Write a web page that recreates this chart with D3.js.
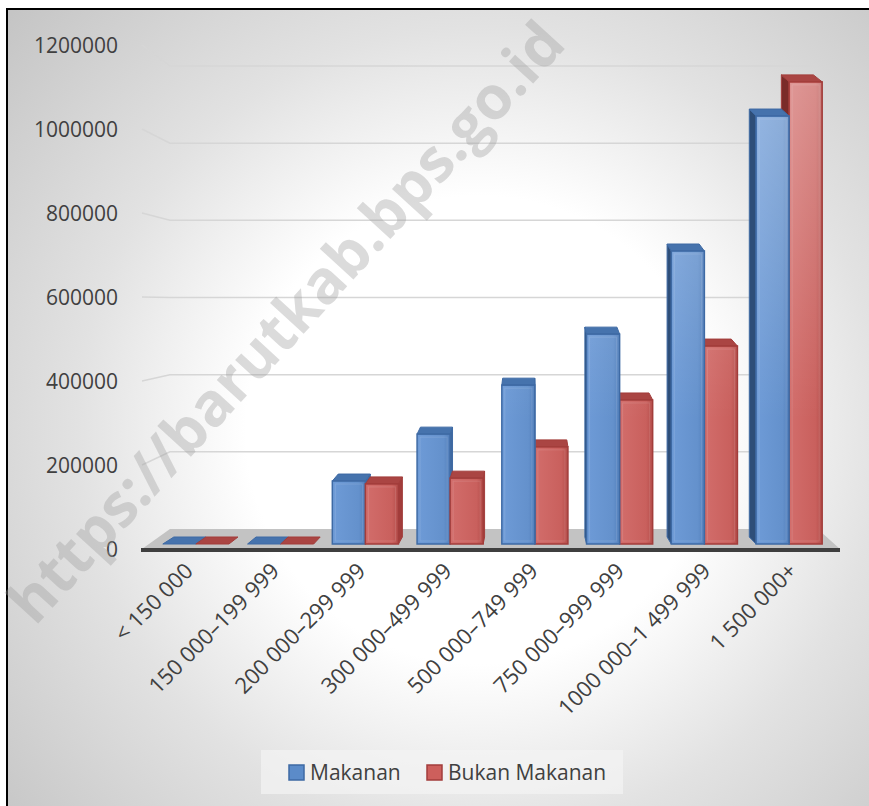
<!DOCTYPE html>
<html>
<head>
<meta charset="utf-8">
<script src="https://cdn.jsdelivr.net/npm/d3@7"></script>
<style>
  body { margin: 0; background: #fff; }
  svg { display: block; font-family: "Open Sans", "Noto Sans", sans-serif; }
</style>
</head>
<body>
<div class="chart"></div>
<script>
// data
var categories = ["< 150 000", "150 000–199 999", "200 000–299 999", "300 000–499 999",
  "500 000–749 999", "750 000–999 999", "1000 000–1 499 999", "1 500 000+"];
var makanan = [0, 0, 153000, 267000, 386000, 510000, 712000, 1040000];
var bukanMakanan = [0, 0, 146000, 160000, 236000, 350000, 481000, 1123000];
var seriesNames = ["Makanan", "Bukan Makanan"];
var yTicks = [0, 200000, 400000, 600000, 800000, 1000000, 1200000];

var width = 869, height = 806;
var svg = d3.select(".chart").append("svg")
  .attr("width", width)
  .attr("height", height);
var defs = svg.append("defs");

// achtergrond verloop
var bg = defs.append("radialGradient").attr("id", "bg")
  .attr("gradientUnits", "userSpaceOnUse")
  .attr("cx", 480).attr("cy", 430).attr("r", 650);
bg.append("stop").attr("offset", 0.36).attr("stop-color", "#ffffff");
bg.append("stop").attr("offset", 0.62).attr("stop-color", "#e2e2e2");
bg.append("stop").attr("offset", 1).attr("stop-color", "#c2c2c2");

function barGradient(id, c0, c1, c2) {
  var g = defs.append("linearGradient").attr("id", id)
    .attr("x1", 0).attr("x2", 1).attr("y1", 0).attr("y2", 0);
  g.append("stop").attr("offset", 0).attr("stop-color", c0);
  g.append("stop").attr("offset", 0.8).attr("stop-color", c1);
  g.append("stop").attr("offset", 1).attr("stop-color", c2);
}
barGradient("blueFront", "#6e9bd7", "#6491cc", "#537fbb");
barGradient("redFront", "#d26d6b", "#c9605d", "#b44d4a");

// lichte glans naar boven toe
var shine = defs.append("linearGradient").attr("id", "shine")
  .attr("gradientUnits", "userSpaceOnUse")
  .attr("x1", 0).attr("x2", 0).attr("y1", 70).attr("y2", 420);
shine.append("stop").attr("offset", 0).attr("stop-color", "#fff").attr("stop-opacity", 0.3);
shine.append("stop").attr("offset", 1).attr("stop-color", "#fff").attr("stop-opacity", 0);

var styles = {
  "Makanan": { front: "url(#blueFront)", stroke: "#3e6aa4", top: "#4673ad", sideL: "#2e4e78", sideR: "#3f689f", legend: "#5b8bc9" },
  "Bukan Makanan": { front: "url(#redFront)", stroke: "#a23d3b", top: "#aa4543", sideL: "#7a2b29", sideR: "#a23d3b", legend: "#cd5f5c" }
};

svg.append("rect")
  .attr("x", 7).attr("y", 9)
  .attr("width", 900).attr("height", 850)
  .attr("fill", "url(#bg)")
  .attr("stroke", "#000")
  .attr("stroke-width", 2);

// 3D hulpmaten
var vx = 530;          // verdwijnpunt x
var barDepth = 0.03;   // diepte van de staven (fractie richting vx)
var barDy = -7;
var floorDepth = 0.072;

// schalen
var x = d3.scaleBand().domain(categories)
  .range([153.5, 831.5]).paddingInner(0.22).paddingOuter(0.11);
var xs = d3.scaleBand().domain(seriesNames).range([0, x.bandwidth()]);
var yBar = d3.scaleLinear().domain([0, 1200000]).range([544, 50.2]);
var yFront = d3.scaleLinear().domain([0, 1200000]).range([549, 45]);
var yBack = d3.scaleLinear().domain([0, 1200000]).range([529, 66]);

var floorL = 142, floorR = 840;
function backX(px, f) { return px + (vx - px) * f; }

// rasterlijnen (achterwand + zijwand)
var grid = svg.append("g");
grid.selectAll("path.grid")
  .data(yTicks.slice(1))
  .enter().append("path")
  .attr("class", "grid")
  .attr("d", function (d) {
    return "M" + floorL + "," + yFront(d) + "L" + backX(floorL, floorDepth) + "," + yBack(d) +
      "L" + backX(floorR, floorDepth) + "," + yBack(d);
  })
  .attr("fill", "none")
  .attr("stroke", "#d6d6d6")
  .attr("stroke-width", 1.5);

// y-as labels
svg.append("g").selectAll("text")
  .data(yTicks)
  .enter().append("text")
  .attr("x", 118)
  .attr("y", function (d) { return yFront(d) + 1; })
  .attr("dy", "0.35em")
  .attr("text-anchor", "end")
  .attr("font-size", 21)
  .attr("fill", "#404040")
  .text(function (d) { return d; });

// vloer
var floorPts = [[floorL, yFront(0)], [floorR, yFront(0)],
  [backX(floorR, floorDepth), yBack(0)], [backX(floorL, floorDepth), yBack(0)]];
svg.append("path")
  .attr("d", "M" + floorPts.join("L") + "Z")
  .attr("fill", "#c3c3c3");
svg.append("line")
  .attr("x1", floorL - 1).attr("x2", floorR)
  .attr("y1", yFront(0) + 1).attr("y2", yFront(0) + 1)
  .attr("stroke", "#3f3f3f")
  .attr("stroke-width", 4);

// staven
var rows = categories.map(function (c, i) {
  return { cat: c, values: [
    { name: seriesNames[0], value: makanan[i] },
    { name: seriesNames[1], value: bukanMakanan[i] }
  ] };
});

function poly(pts) { return "M" + pts.join("L") + "Z"; }

var groups = svg.append("g").selectAll("g")
  .data(rows)
  .enter().append("g");

groups.each(function (row) {
  var g = d3.select(this);
  var gx = x(row.cat);
  var center = gx + x.bandwidth() / 2;
  // voor groepen rechts van het verdwijnpunt: eerst rood, dan blauw
  var order = center > vx ? row.values.slice().reverse() : row.values;
  order.forEach(function (d) {
    var st = styles[d.name];
    var x0 = gx + xs(d.name), x1 = x0 + xs.bandwidth();
    var yt = yBar(d.value), yb = yBar(0);
    var bx0 = backX(x0, barDepth), bx1 = backX(x1, barDepth);
    var bar = g.append("g");
    if (d.value > 0) {
      if (bx0 < x0) {
        bar.append("path")
          .attr("d", poly([[x0, yt], [bx0, yt + barDy], [bx0, yb + barDy], [x0, yb]]))
          .attr("fill", st.sideL).attr("stroke", st.stroke).attr("stroke-width", 1);
      } else {
        bar.append("path")
          .attr("d", poly([[x1, yt], [bx1, yt + barDy], [bx1, yb + barDy], [x1, yb]]))
          .attr("fill", st.sideR).attr("stroke", st.stroke).attr("stroke-width", 1);
      }
    }
    bar.append("path")
      .attr("d", poly([[x0, yt], [x1, yt], [bx1, yt + barDy], [bx0, yt + barDy]]))
      .attr("fill", st.top).attr("stroke", st.stroke).attr("stroke-width", 1);
    if (d.value > 0) {
      bar.append("rect")
        .attr("x", x0).attr("y", yt)
        .attr("width", x1 - x0).attr("height", yb - yt)
        .attr("fill", st.front)
        .attr("stroke", st.stroke).attr("stroke-width", 1.5);
      bar.append("rect")
        .attr("x", x0 + 1).attr("y", yt + 1)
        .attr("width", x1 - x0 - 2).attr("height", yb - yt - 2)
        .attr("fill", "url(#shine)");
      bar.append("rect")
        .attr("x", x0 + 3).attr("y", yt + 3)
        .attr("width", x1 - x0 - 6).attr("height", Math.max(0, yb - yt - 6))
        .attr("fill", "none")
        .attr("stroke", "#ffffff").attr("stroke-opacity", 0.12).attr("stroke-width", 1);
    }
  });
});

// x-as labels (op het voorvlak van de vloer)
svg.append("g").selectAll("text")
  .data(categories)
  .enter().append("text")
  .attr("transform", function (d) {
    var c = x(d) + x.bandwidth() / 2;
    var lx = c + (c - vx) * 0.018 - 1;
    return "translate(" + lx + ",567) rotate(-45)";
  })
  .attr("text-anchor", "end")
  .attr("dy", "0.35em")
  .attr("font-size", 22)
  .attr("fill", "#404040")
  .text(function (d) { return d; });

// legenda
var legend = svg.append("g");
legend.append("rect")
  .attr("x", 261).attr("y", 750).attr("width", 362).attr("height", 44)
  .attr("fill", "#f4f4f4").attr("fill-opacity", 0.7);
var legX = [289, 427];
var item = legend.selectAll("g.item")
  .data(seriesNames)
  .enter().append("g")
  .attr("class", "item")
  .attr("transform", function (d, i) { return "translate(" + legX[i] + ",765)"; });
item.append("rect")
  .attr("width", 15).attr("height", 15)
  .attr("fill", function (d) { return styles[d].legend; })
  .attr("stroke", function (d) { return styles[d].stroke; })
  .attr("stroke-width", 1.5);
item.append("text")
  .attr("x", 21).attr("y", 8)
  .attr("dy", "0.35em")
  .attr("font-size", 21)
  .attr("fill", "#404040")
  .text(function (d) { return d; });

// watermerk
svg.append("text")
  .attr("transform", "translate(286,322) rotate(-47.5)")
  .attr("text-anchor", "middle")
  .attr("dy", "0.35em")
  .attr("font-size", 60)
  .attr("font-weight", "bold")
  .attr("fill", "#9a9a9a")
  .attr("fill-opacity", 0.36)
  .text("https://barutkab.bps.go.id");
</script>
</body>
</html>
